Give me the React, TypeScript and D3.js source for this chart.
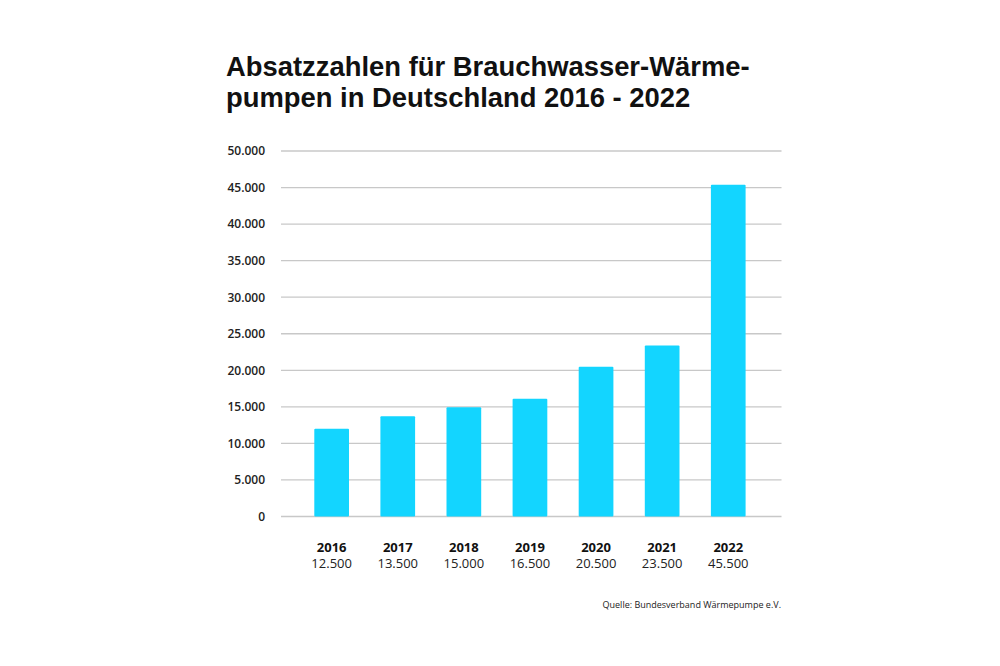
import React from "react";
import * as d3 from "d3";

const years = ["2016", "2017", "2018", "2019", "2020", "2021", "2022"];
const barValues = [12000, 13700, 14950, 16100, 20500, 23400, 45400];
const valueLabels = ["12.500", "13.500", "15.000", "16.500", "20.500", "23.500", "45.500"];
const yTicks = [0, 5000, 10000, 15000, 20000, 25000, 30000, 35000, 40000, 45000, 50000];
const titleLines = ["Absatzzahlen für Brauchwasser-Wärme-", "pumpen in Deutschland 2016 - 2022"];
const source = "Quelle: Bundesverband Wärmepumpe e.V.";

const de = d3.formatLocale({ decimal: ",", thousands: ".", grouping: [3], currency: ["", " €"] });
const fmt = de.format(",");

export default function App() {
  const W = 1000, H = 666;
  const y = d3.scaleLinear().domain([0, 50000]).range([516.5, 151]);
  const x = d3.scaleBand<string>().domain(years).range([298.6, 761.3]).paddingInner(0.475).paddingOuter(0.2375);
  const gridX0 = 281, gridX1 = 781.5;
  const font = "'Open Sans', sans-serif";
  return (
    <svg width={W} height={H} style={{ position: "absolute", left: 0, top: 0, background: "#fff" }}>
      <rect width={W} height={H} fill="#fff" />
      {titleLines.map((t, i) => (
        <text key={i} x={226} y={76 + i * 31} fontFamily="'Liberation Sans', sans-serif" fontWeight={700} fontSize={27.4} fill="#111">
          {t}
        </text>
      ))}
      {yTicks.map((v) => (
        <g key={v}>
          <line x1={gridX0} x2={gridX1} y1={y(v)} y2={y(v)} stroke="#c8c8c8" strokeWidth={1.3} />
          <text x={265} y={y(v) + 4.3} textAnchor="end" fontFamily={font} fontWeight={600} fontSize={12} fill="#222">
            {fmt(v)}
          </text>
        </g>
      ))}
      {years.map((yr, i) => (
        <rect key={yr} x={x(yr)} y={y(barValues[i])} width={x.bandwidth()} height={y(0) - y(barValues[i])} fill="#13d5ff" rx={1} />
      ))}
      {years.map((yr, i) => {
        const cx = (x(yr) as number) + x.bandwidth() / 2;
        return (
          <g key={yr}>
            <text x={cx} y={552} textAnchor="middle" fontFamily={font} fontWeight={700} fontSize={13} fill="#111">{yr}</text>
            <text x={cx} y={568} textAnchor="middle" fontFamily={font} fontWeight={400} fontSize={13} fill="#222">{valueLabels[i]}</text>
          </g>
        );
      })}
      <text x={781} y={608} textAnchor="end" fontFamily={font} fontSize={9} fill="#222">{source}</text>
    </svg>
  );
}
